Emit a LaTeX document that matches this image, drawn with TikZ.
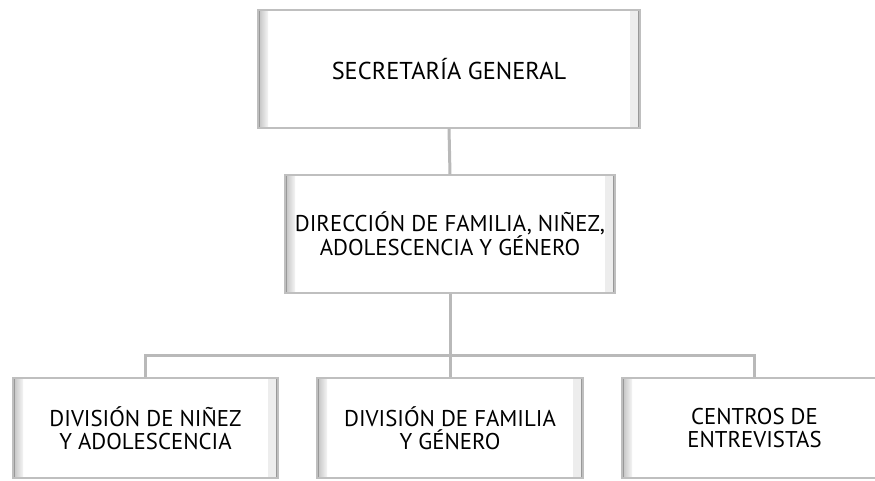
\documentclass[tikz,border=0pt]{standalone}
\usepackage{fontspec}
\setmainfont{PT Sans}
\usetikzlibrary{calc}

% biseau des cadres
\newcommand{\bv}{10pt}
\tikzset{
  trait/.style={draw=gray!55, line width=3pt},
  cadre/.style={fill=white, draw=gray!50, line width=1.2pt, align=center,
    font=\fontsize{22.8}{23}\selectfont, inner sep=0pt,
    path picture={
      \coordinate (pnw) at (path picture bounding box.north west);
      \coordinate (pne) at (path picture bounding box.north east);
      \coordinate (psw) at (path picture bounding box.south west);
      \coordinate (pse) at (path picture bounding box.south east);
      \shade[top color=gray!45, bottom color=gray!8]
        (pnw) -- (pne) -- ($(pne)+(-\bv,\bv)$) -- ($(pnw)+(\bv,\bv)$) -- cycle;
      \shade[left color=gray!50, right color=gray!8]
        (pnw) -- (psw) -- ($(psw)+(\bv,-\bv)$) -- ($(pnw)+(\bv,\bv)$) -- cycle;
      \fill[gray!14]
        (pne) -- (pse) -- ($(pse)+(-\bv,-\bv)$) -- ($(pne)+(-\bv,\bv)$) -- cycle;
      \fill[gray!10]
        (psw) -- (pse) -- ($(pse)+(-\bv,-\bv)$) -- ($(psw)+(\bv,-\bv)$) -- cycle;
      \draw[gray!80, line width=4pt] (pnw) -- (psw) (pne) -- (pse);
    }},
}

\begin{document}
\begin{tikzpicture}[x=1pt, y=-1pt]
    \useasboundingbox (0,0) rectangle (875,481);
    \clip (0,0) rectangle (875,481);
    % Niveaux
    \node[cadre, minimum width=382pt, minimum height=118pt, font=\fontsize{24.4}{24}\selectfont]
      (sec) at (449,69) {SECRETARÍA GENERAL};
    \node[cadre, minimum width=330pt, minimum height=118pt] (dir) at (450,234)
      {DIRECCIÓN DE FAMILIA, NIÑEZ,\\ADOLESCENCIA Y GÉNERO};
    \node[cadre, minimum width=265pt, minimum height=100pt] (divn) at (145.5,428)
      {DIVISIÓN DE NIÑEZ\\Y ADOLESCENCIA};
    \node[cadre, minimum width=266pt, minimum height=100pt] (divf) at (450,428)
      {DIVISIÓN DE FAMILIA\\Y GÉNERO};
    \node[cadre, minimum width=265pt, minimum height=100pt] (cent) at (754.5,428)
      {CENTROS DE\\ENTREVISTAS};
    % Liaisons
    \coordinate (bus) at (450,355);
    \draw[trait] (sec.south) -- (dir.north);
    \draw[trait] (dir.south) -- (bus);
    \draw[trait] (divn.north) |- (bus);
    \draw[trait] (cent.north) |- (bus);
    \draw[trait] (divf.north) -- (bus);
\end{tikzpicture}
\end{document}
